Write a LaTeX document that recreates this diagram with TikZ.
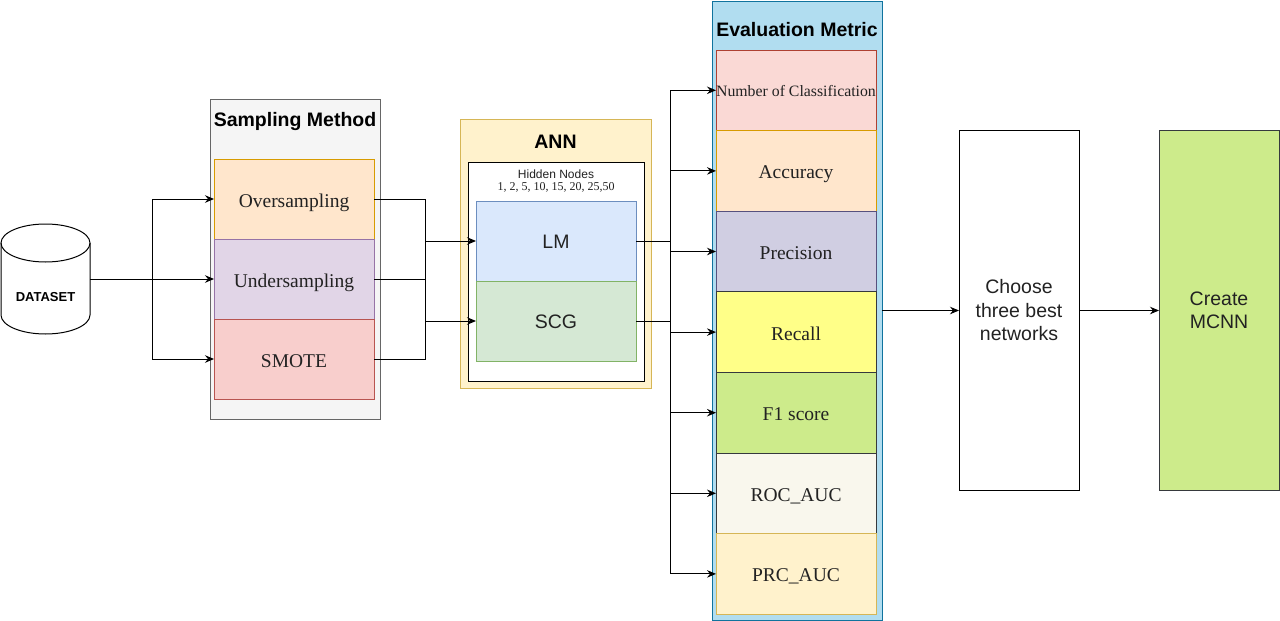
\documentclass[tikz,border=0pt]{standalone}
\usepackage{fontspec}
\setmainfont{Liberation Serif}
\setsansfont{Liberation Sans}
\usetikzlibrary{arrows.meta}
\definecolor{smfill}{HTML}{F5F5F5}\definecolor{smline}{HTML}{666666}
\definecolor{ovfill}{HTML}{FFE6CC}\definecolor{ovline}{HTML}{D79B00}
\definecolor{unfill}{HTML}{E1D5E7}\definecolor{unline}{HTML}{9673A6}
\definecolor{rdfill}{HTML}{F8CECC}\definecolor{rdline}{HTML}{B85450}
\definecolor{anfill}{HTML}{FFF2CC}\definecolor{anline}{HTML}{D6B656}
\definecolor{lmfill}{HTML}{DAE8FC}\definecolor{lmline}{HTML}{6C8EBF}
\definecolor{sgfill}{HTML}{D5E8D4}\definecolor{sgline}{HTML}{82B366}
\definecolor{evfill}{HTML}{B1DDF0}\definecolor{evline}{HTML}{10739E}
\definecolor{ncfill}{HTML}{FAD9D5}\definecolor{ncline}{HTML}{AE4132}
\definecolor{prfill}{HTML}{D0CEE2}\definecolor{prline}{HTML}{56517E}
\definecolor{rcfill}{HTML}{FFFF88}\definecolor{dkline}{HTML}{36393D}
\definecolor{f1fill}{HTML}{CDEB8B}
\definecolor{rofill}{HTML}{F9F7ED}
\definecolor{txt}{HTML}{222222}
\begin{document}
\begin{tikzpicture}[x=1pt,y=-1pt,
  box/.style={draw, line width=1pt, inner sep=0pt, outer sep=0pt, anchor=north west, align=center, text=txt},
  serif20/.style={font=\fontsize{19.5}{23}\selectfont\rmfamily, text height=16pt, text depth=0pt},
  sans20/.style={font=\fontsize{19.5}{23.5}\selectfont\sffamily},
  sans1/.style={sans20, text height=14.5pt, text depth=0pt},
  ttl/.style={font=\fontsize{19.5}{23}\selectfont\sffamily\bfseries, inner sep=0pt},
  metric/.style={box, minimum width=160pt, minimum height=80.6pt, serif20},
  conn/.style={line width=1pt},
  arr/.style={conn, -{Stealth[length=9pt,width=7.5pt,inset=3pt]}}
]
\useasboundingbox (0,0) rectangle (1280,621);
% Dataset cylinder
\draw[line width=1pt, fill=white] (1,243) -- (1,315) arc[start angle=180, end angle=360, x radius=44.5pt, y radius=19pt] -- (90,243);
\draw[line width=1pt] (45.5,243) ellipse[x radius=44.5pt, y radius=19pt];
\node[font=\fontsize{13}{15}\selectfont\sffamily\bfseries] (ds) at (45.5,297.5) {DATASET};
\coordinate (dsE) at (90,279);
% Sampling method
\node[box, draw=smline, fill=smfill, minimum width=170pt, minimum height=320pt] (smc) at (210,99) {};
\node[ttl] (smt) at (295,121.5) {Sampling Method};
\node[box, draw=ovline, fill=ovfill, minimum width=160pt, minimum height=80pt, serif20] (over) at (214,159) {Oversampling};
\node[box, draw=unline, fill=unfill, minimum width=160pt, minimum height=80pt, serif20] (under) at (214,239) {Undersampling};
\node[box, draw=rdline, fill=rdfill, minimum width=160pt, minimum height=80pt, serif20] (smote) at (214,319) {SMOTE};
% ANN
\node[box, draw=anline, fill=anfill, minimum width=191pt, minimum height=269pt] (annc) at (460,119) {};
\node[ttl] (annt) at (555.5,142) {ANN};
\node[box, draw=black, fill=white, minimum width=176pt, minimum height=219pt] (hid) at (468,162) {};
\node[font=\fontsize{12}{14}\selectfont\sffamily, text=txt, inner sep=0pt] (hidt) at (556,174) {Hidden Nodes};
\node[font=\fontsize{12}{14}\selectfont\rmfamily, text=txt, inner sep=0pt] (hidn) at (556,187) {1, 2, 5, 10, 15, 20, 25,50};
\node[box, draw=lmline, fill=lmfill, minimum width=160pt, minimum height=80pt, sans1] (lm) at (476,201) {LM};
\node[box, draw=sgline, fill=sgfill, minimum width=160pt, minimum height=80pt, sans1] (scg) at (476,281) {SCG};
% Evaluation metric
\node[box, draw=evline, fill=evfill, minimum width=170pt, minimum height=619pt] (evc) at (712,1) {};
\node[ttl] (evt) at (797,30) {Evaluation Metric};
\node[metric, draw=ncline, fill=ncfill, font=\fontsize{15.8}{18}\selectfont\rmfamily, text height=13pt] (m1) at (716,50) {Number of Classification};
\node[metric, draw=ovline, fill=ovfill] (m2) at (716,130.6) {Accuracy};
\node[metric, draw=prline, fill=prfill] (m3) at (716,211.2) {Precision};
\node[metric, draw=dkline, fill=rcfill] (m4) at (716,291.8) {Recall};
\node[metric, draw=dkline, fill=f1fill] (m5) at (716,372.4) {F1 score};
\node[metric, draw=dkline, fill=rofill] (m6) at (716,453) {ROC\_AUC};
\node[metric, draw=anline, fill=anfill] (m7) at (716,533.6) {PRC\_AUC};
% Choose / Create
\node[box, draw=black, fill=white, minimum width=120pt, minimum height=360pt, sans20] (choose) at (959,130.5) {Choose\\three best\\networks};
\node[box, draw=dkline, fill=f1fill, minimum width=120pt, minimum height=360pt, sans20] (mcnn) at (1159,130.5) {Create\\MCNN};
% Connectors: dataset -> sampling
\coordinate (b1) at (152,279);
\draw[arr] (dsE) -- (under.west);
\draw[arr] (b1) |- (over.west);
\draw[arr] (b1) |- (smote.west);
% sampling -> ANN
\coordinate (j1) at (425,199);
\coordinate (j2) at (425,359);
\draw[conn] (over.east) -- (j1) -- (j2) -- (smote.east);
\draw[conn] (under.east) -- (under.east -| j1);
\draw[arr] (lm.west -| j1) -- (lm.west);
\draw[arr] (scg.west -| j1) -- (scg.west);
% ANN -> metrics
\coordinate (k1) at (670,0);
\draw[conn] (lm.east) -- (lm.east -| k1);
\draw[conn] (scg.east) -- (scg.east -| k1);
\draw[conn] (m1.west -| k1) -- (m7.west -| k1);
\foreach \m in {m1,m2,m3,m4,m5,m6,m7}{\draw[arr] (\m.west -| k1) -- (\m.west);}
% metrics -> choose -> create
\draw[arr] (evc.east) -- (choose.west);
\draw[arr] (choose.east) -- (mcnn.west);
\end{tikzpicture}
\end{document}
